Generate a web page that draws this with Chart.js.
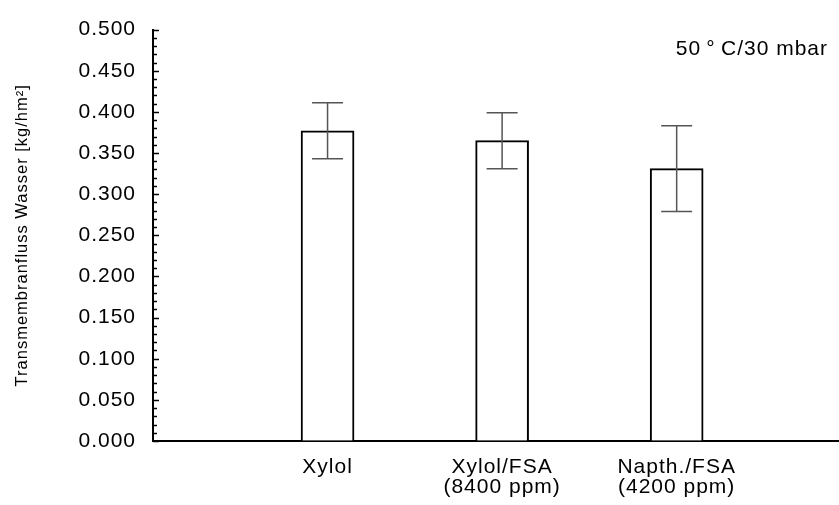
<!DOCTYPE html>
<html>
<head>
<meta charset="utf-8">
<script src="https://cdn.jsdelivr.net/npm/chart.js@4.4.0/dist/chart.umd.min.js"></script>
<style>
  body { margin: 0; background: #fff; }
  canvas { display: block; }
</style>
</head>
<body>
<canvas id="chartFluss" width="839" height="505"></canvas>
<script>
const categories = [['Xylol'], ['Xylol/FSA', '(8400 ppm)'], ['Napth./FSA', '(4200 ppm)']];
const positions = [1, 2, 3];
const fluxValues = [0.377, 0.365, 0.331];
const fluxErrors = [0.034, 0.034, 0.052];
const yTickStep = 0.05;
const yMinorStep = 0.01;
const conditionText = '50\u2009°\u2009C/30 mbar';
const yTitle = 'Transmembranfluss Wasser [kg/hm²]';

const fontFamily = '"Liberation Sans", Arial, Helvetica, sans-serif';

// Fehlerbalken + kleine Striche an der y-Achse + Beschriftung oben rechts
const extras = {
  id: 'extras',
  beforeDraw(chart) {
    chart.ctx.letterSpacing = '1px';
  },
  afterDatasetsDraw(chart) {
    const ctx = chart.ctx;
    const x = chart.scales.x;
    const y = chart.scales.y;
    ctx.save();
    ctx.strokeStyle = '#555';
    ctx.lineWidth = 1.5;
    fluxValues.forEach((v, i) => {
      const px = x.getPixelForValue(positions[i]);
      const top = y.getPixelForValue(v + fluxErrors[i]);
      const bot = y.getPixelForValue(v - fluxErrors[i]);
      ctx.beginPath();
      ctx.moveTo(px, top); ctx.lineTo(px, bot);
      ctx.moveTo(px - 15.5, top); ctx.lineTo(px + 15.5, top);
      ctx.moveTo(px - 15.5, bot); ctx.lineTo(px + 15.5, bot);
      ctx.stroke();
    });
    ctx.restore();
  },
  afterDraw(chart) {
    const ctx = chart.ctx;
    const y = chart.scales.y;
    const left = chart.chartArea.left;
    ctx.save();
    ctx.strokeStyle = '#000';
    ctx.lineWidth = 1.5;
    const n = Math.round((y.max - y.min) / yMinorStep);
    for (let k = 0; k <= n; k++) {
      const py = Math.round(y.getPixelForValue(y.min + k * yMinorStep)) + 0.5;
      const len = k % 5 === 0 ? 6 : 4;
      ctx.beginPath();
      ctx.moveTo(left, py);
      ctx.lineTo(left + len, py);
      ctx.stroke();
    }
    ctx.fillStyle = '#000';
    ctx.font = '21px ' + fontFamily;
    ctx.textAlign = 'right';
    ctx.textBaseline = 'alphabetic';
    ctx.fillText(conditionText, chart.chartArea.right - 11, 55);
    ctx.restore();
    ctx.letterSpacing = '0px';
  }
};

const ctx = document.getElementById('chartFluss').getContext('2d');

const chartFluss = new Chart(ctx, {
  type: 'bar',
  data: {
    datasets: [{
      data: fluxValues.map((v, i) => ({ x: positions[i], y: v })),
      backgroundColor: '#fff',
      borderColor: '#000',
      borderWidth: 2,
      barThickness: 53
    }]
  },
  options: {
    responsive: false,
    animation: false,
    layout: { padding: { top: 21, right: 0, left: 0, bottom: 0 } },
    plugins: {
      legend: { display: false },
      tooltip: { enabled: false }
    },
    scales: {
      x: {
        type: 'linear',
        offset: false,
        min: 0,
        max: 3.93,
        afterBuildTicks: (scale) => { scale.ticks = positions.map(p => ({ value: p })); },
        afterFit: (scale) => { scale.height = 64; },
        grid: { drawOnChartArea: false, drawTicks: false },
        border: { color: '#000', width: 2 },
        ticks: {
          color: '#000',
          padding: 16,
          maxRotation: 0,
          font: { family: fontFamily, size: 21, lineHeight: 0.95 },
          callback: (value) => categories[positions.indexOf(value)] || ''
        }
      },
      y: {
        min: 0,
        max: 0.5,
        afterFit: (scale) => { scale.width = 153; },
        grid: { drawOnChartArea: false, drawTicks: false },
        border: { color: '#000', width: 2 },
        ticks: {
          stepSize: yTickStep,
          color: '#000',
          padding: 17,
          font: { family: fontFamily, size: 21 },
          callback: (value) => value.toFixed(3)
        },
        title: {
          display: true,
          text: yTitle,
          color: '#000',
          font: { family: fontFamily, size: 16.5 },
          padding: { top: 13, bottom: 0 }
        }
      }
    }
  },
  plugins: [extras]
});
</script>
</body>
</html>
